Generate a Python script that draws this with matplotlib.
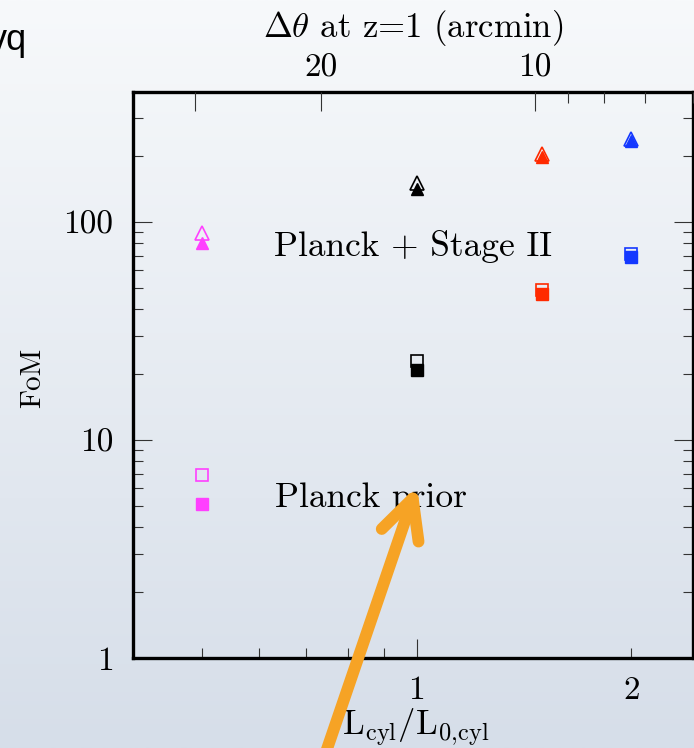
import matplotlib
matplotlib.use("Agg")
import matplotlib.pyplot as plt
import matplotlib.ticker as mticker
import numpy as np
from matplotlib.patches import FancyArrowPatch

# cylinder size relative to fiducial, one column of points per colour
L_ratio = [0.5, 1.0, 1.5, 2.0]
point_colors = ["#ff40ff", "#000000", "#ff2a00", "#1438ff"]

# Planck + Stage II (triangles), open / filled variants
fom_stage2_open = [89, 151, 205, 241]
fom_stage2_filled = [80, 142, 199, 235]

# Planck prior only (squares)
fom_prior_open = [6.9, 23.0, 49, 71]
fom_prior_filled = [5.1, 20.9, 47, 69]

# top axis: angular size at z=1 for a given L/L0
theta_at_L1 = 14.67  # arcmin
top_major = [30, 20, 10]
top_labels = ["", "20", "10"]
top_minor = [9, 8, 7, 6]

x_major = [1]
x_minor = [0.5, 0.6, 0.7, 0.8, 0.9, 2]
y_ticks = [1, 10, 100]

plt.rcParams["font.family"] = ["cmr10", "DejaVu Serif"]
plt.rcParams["mathtext.fontset"] = "cm"
plt.rcParams["axes.formatter.use_mathtext"] = True

W, H = 694, 748
fig = plt.figure(figsize=(W / 100, H / 100), dpi=100)

# slide-like background gradient
bg = fig.add_axes([0, 0, 1, 1], zorder=-10)
grad = np.linspace(0, 1, 256).reshape(-1, 1)
top_c = np.array([247, 249, 251]) / 255
bot_c = np.array([214, 222, 233]) / 255
img = top_c[None, None, :] * (1 - grad[:, :, None]) + bot_c[None, None, :] * grad[:, :, None]
bg.imshow(img, aspect="auto", extent=[0, 1, 0, 1])
bg.set_axis_off()

left, right, top, bottom = 133, 693, 91.5, 658
ax = fig.add_axes([left / W, (H - bottom) / H, (right - left) / W, (bottom - top) / H])
ax.set_facecolor("none")
ax.set_xscale("log")
ax.set_yscale("log")
xmin, xmax = 0.4, 2.44
ax.set_xlim(xmin, xmax)
ax.set_ylim(1, 397)

for i, c in enumerate(point_colors):
    x = L_ratio[i]
    ax.plot(x, fom_stage2_open[i], marker="^", ms=9.5, mfc="none", mec=c, mew=1.2, ls="none", zorder=3)
    ax.plot(x, fom_stage2_filled[i], marker="^", ms=8.5, mfc=c, mec=c, ls="none", zorder=4)
    ax.plot(x, fom_prior_open[i], marker="s", ms=8, mfc="none", mec=c, mew=1.2, ls="none", zorder=3)
    ax.plot(x, fom_prior_filled[i], marker="s", ms=8, mfc=c, mec=c, ls="none", zorder=4)

ax.set_xticks(x_major, [str(t) for t in x_major])
ax.set_xticks(x_minor, ["" if t != 2 else "2" for t in x_minor], minor=True)
ax.set_yticks(y_ticks, [str(t) for t in y_ticks])
ax.yaxis.set_minor_formatter(mticker.NullFormatter())

ax.tick_params(which="both", direction="in", colors="#333333", labelcolor="black",
               labelsize=24, right=True, top=False)
ax.tick_params(which="major", length=14, width=0.8)
ax.tick_params(which="minor", length=7, width=0.8)
ax.tick_params(axis="x", which="both", pad=13)
ax.tick_params(axis="y", pad=14)
for s in ax.spines.values():
    s.set_linewidth(2.4)

fig.text(33 / W, 1 - 378 / H, "FoM", rotation=90, fontsize=21, ha="center", va="center")
fig.text(416 / W, 1 - 735 / H, r"$\mathrm{L_{cyl}/L_{0{,}cyl}}$", fontsize=25,
         ha="center", va="baseline")

# top axis in arcmin
ax2 = ax.twiny()
ax2.set_xscale("log")
ax2.set_xlim(theta_at_L1 / xmin, theta_at_L1 / xmax)
ax2.set_xticks(top_major, top_labels)
ax2.set_xticks(top_minor, minor=True)
ax2.xaxis.set_minor_formatter(mticker.NullFormatter())
ax2.tick_params(which="both", direction="in", colors="#333333", labelcolor="black",
                labelsize=24, pad=6.5)
ax2.tick_params(which="major", length=14, width=0.8)
ax2.tick_params(which="minor", length=8, width=0.8)
ax2.set_xlabel(r"$\Delta\theta$ at z=1 (arcmin)", fontsize=25, labelpad=12)
for s in ax2.spines.values():
    s.set_visible(False)

fig.text(274 / W, 1 - 256 / H, "Planck + Stage II", fontsize=25.5, va="baseline", ha="left")
fig.text(275 / W, 1 - 506.5 / H, "Planck prior", fontsize=25.5, va="baseline", ha="left")

fig.text(27 / W, 1 - 50 / H, "vq", fontsize=26, ha="right", va="baseline",
         family=["Liberation Sans", "DejaVu Sans"])

arrow = FancyArrowPatch((326 / W, 1 - 752 / H), (417 / W, 1 - 486 / H),
                        transform=fig.transFigure, arrowstyle="->,head_length=28,head_width=14",
                        mutation_scale=1, lw=8.5, color="#f6a325", capstyle="round",
                        joinstyle="round", shrinkA=0, shrinkB=0, zorder=20)
fig.add_artist(arrow)

fig.savefig("out.png", dpi=100)
